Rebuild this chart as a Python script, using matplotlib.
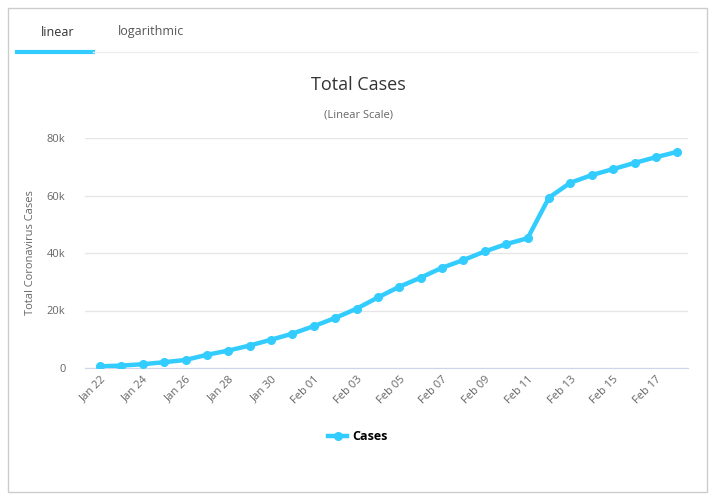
import matplotlib
matplotlib.use("Agg")
import matplotlib.pyplot as plt
from matplotlib.patches import Rectangle
from matplotlib.lines import Line2D

dates = ["Jan 22", "Jan 23", "Jan 24", "Jan 25", "Jan 26", "Jan 27", "Jan 28", "Jan 29",
         "Jan 30", "Jan 31", "Feb 01", "Feb 02", "Feb 03", "Feb 04", "Feb 05", "Feb 06",
         "Feb 07", "Feb 08", "Feb 09", "Feb 10", "Feb 11", "Feb 12", "Feb 13", "Feb 14",
         "Feb 15", "Feb 16", "Feb 17", "Feb 18"]
cases = [580, 845, 1317, 2015, 2800, 4581, 6058, 7813, 9823, 11950, 14553, 17391,
         20630, 24545, 28266, 31439, 34876, 37552, 40553, 43099, 45134, 59287,
         64438, 67100, 69197, 71329, 73332, 75184]
y_ticks = [0, 20000, 40000, 60000, 80000]
y_labels = ["0", "20k", "40k", "60k", "80k"]

cyan = "#33ccff"
plt.rcParams["font.family"] = ["Open Sans", "DejaVu Sans"]

fig = plt.figure(figsize=(7.18, 5), dpi=100)
# outer frame
fig.patches.append(Rectangle((8 / 718, 8 / 500), 699 / 718, 484 / 500, transform=fig.transFigure,
                             fill=False, edgecolor="#cccccc", linewidth=1))
# tabs
fig.text(58 / 718, 1 - 32 / 500, "linear", ha="center", va="center", fontsize=9, color="#333333")
fig.text(151 / 718, 1 - 32 / 500, "logarithmic", ha="center", va="center", fontsize=9, color="#555555")
fig.add_artist(Line2D([17 / 718, 93 / 718], [1 - 52 / 500] * 2, color=cyan, linewidth=3))
fig.add_artist(Line2D([93 / 718, 697 / 718], [1 - 52 / 500] * 2, color="#eeeeee", linewidth=1))

fig.text(358 / 718, 1 - 85 / 500, "Total Cases", ha="center", va="center", fontsize=13, color="#333333")
fig.text(358 / 718, 1 - 115 / 500, "(Linear Scale)", ha="center", va="center", fontsize=8, color="#666666")

ax = fig.add_axes([85 / 718, 1 - 368 / 500, 603 / 718, 230 / 500])
x = list(range(len(dates)))
ax.plot(x, cases, color=cyan, linewidth=3.2, marker="o", markersize=5.5, label="Cases", zorder=3)
ax.set_xlim(-0.7, len(dates) - 0.5)
ax.set_ylim(0, 80000)
ax.set_yticks(y_ticks)
ax.set_yticklabels(y_labels)
ax.set_xticks(x[::2])
ax.set_xticklabels(dates[::2], rotation=45, ha="right", rotation_mode="anchor")
ax.grid(axis="y", color="#e6e6e6", linewidth=1)
ax.set_axisbelow(True)
for s in ["top", "right", "left"]:
    ax.spines[s].set_visible(False)
ax.spines["bottom"].set_color("#ccd6eb")
ax.tick_params(axis="y", length=0, labelsize=8, colors="#666666", pad=14)
ax.tick_params(axis="x", length=0, labelsize=8, colors="#666666", pad=4)
ax.set_ylabel("Total Coronavirus Cases", fontsize=8, color="#666666", labelpad=8)

fig.legend(handles=[Line2D([], [], color=cyan, linewidth=3.2, marker="o", markersize=5.5)],
           labels=["Cases"], loc="center", bbox_to_anchor=(358 / 718, 1 - 437 / 500),
           frameon=False, prop={"weight": "bold", "size": 9}, handlelength=1.5, handletextpad=0.4)

fig.savefig("out.png", dpi=100)
